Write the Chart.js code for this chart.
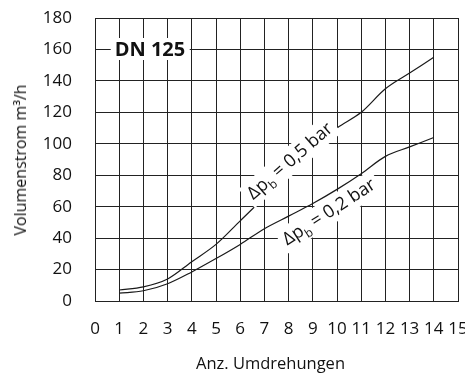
<!DOCTYPE html>
<html>
<head>
<meta charset="utf-8">
<script src="https://cdn.jsdelivr.net/npm/chart.js@4/dist/chart.umd.min.js"></script>
<style>
  html, body { margin: 0; padding: 0; background: #fff; }
  #wrap { position: relative; width: 465px; height: 374px; }
  .note {
    position: absolute; white-space: nowrap; color: #111;
    font-family: 'Open Sans', 'Noto Sans', sans-serif;
    transform-origin: center center;
  }
  .box { background: #fff; padding: 0 4px; line-height: 22px; }
  .sub { font-size: 12px; position: relative; top: 5px; }
</style>
</head>
<body>
<div id="wrap"><canvas id="chart"></canvas></div>
<script>
// Umdrehungen (x) und Volumenstrom m³/h (y)
const turns = [1, 2, 3, 4, 5, 6, 7, 8, 9, 10, 11, 12, 13, 14];
const flow05 = [7, 9, 14, 25, 36, 51, 66, 81, 97, 110, 120, 135, 145, 155];
const flow02 = [5, 6.5, 11, 18.5, 27, 36, 46, 54, 62, 71, 81, 92, 98, 104];
const xTicks = [0, 1, 2, 3, 4, 5, 6, 7, 8, 9, 10, 11, 12, 13, 14, 15];
const yTicks = [0, 20, 40, 60, 80, 100, 120, 140, 160, 180];

const FONT = "'Open Sans', 'Noto Sans', sans-serif";

// Beschriftungen im Diagramm (Position in Datenkoordinaten)
const curveLabels = [
  { x: 8.06, y: 89, angle: -41, value: '0,5' },
  { x: 9.68, y: 56.5, angle: -33, value: '0,2' }
];

function toPoints(ys) {
  return turns.map((t, i) => ({ x: t, y: ys[i] }));
}

const chart = new Chart(document.getElementById('chart'), {
  type: 'line',
  data: {
    datasets: [
      { label: 'a', data: toPoints(flow05) },
      { label: 'b', data: toPoints(flow02) }
    ]
  },
  options: {
    responsive: true,
    maintainAspectRatio: false,
    animation: false,
    layout: { padding: { top: 18, right: 7, left: 0, bottom: 0 } },
    elements: {
      line: { borderColor: '#1a1a1a', borderWidth: 1.2, cubicInterpolationMode: 'monotone', fill: false },
      point: { radius: 0 }
    },
    scales: {
      x: {
        type: 'linear',
        min: xTicks[0], max: xTicks[xTicks.length - 1],
        afterFit: s => { s.height = 73; s.paddingLeft = 0; s.paddingRight = 0; },
        grid: { display: true, color: '#222', lineWidth: 1, drawTicks: false },
        border: { display: true, color: '#222', width: 1 },
        ticks: { stepSize: 1, color: '#111', font: { family: FONT, size: 17 }, padding: 18, maxRotation: 0, autoSkip: false }
      },
      y: {
        type: 'linear',
        min: yTicks[0], max: yTicks[yTicks.length - 1],
        afterFit: s => { s.width = 95; s.paddingTop = 0; s.paddingBottom = 0; },
        grid: { display: true, color: '#222', lineWidth: 1, drawTicks: false },
        border: { display: true, color: '#222', width: 1 },
        ticks: { stepSize: 20, color: '#111', font: { family: FONT, size: 17 }, padding: 23, autoSkip: false }
      }
    },
    plugins: { legend: { display: false }, tooltip: { enabled: false } }
  }
});

// Texte als HTML über dem Canvas
const wrap = document.getElementById('wrap');
function addNote(html, cls, px, py, angle, size, bold) {
  const el = document.createElement('div');
  el.className = 'note ' + cls;
  el.innerHTML = html;
  el.style.fontSize = size + 'px';
  if (bold) el.style.fontWeight = 'bold';
  el.style.left = px + 'px';
  el.style.top = py + 'px';
  el.style.transform = 'translate(-50%, -50%) rotate(' + angle + 'deg)';
  wrap.appendChild(el);
}

const sx = chart.scales.x, sy = chart.scales.y, area = chart.chartArea;
addNote('DN 125', 'box', sx.getPixelForValue(2.27), sy.getPixelForValue(160), 0, 20, true);
curveLabels.forEach(l => {
  addNote('Δp<span class="sub">b</span> = ' + l.value + ' bar', 'box',
    sx.getPixelForValue(l.x), sy.getPixelForValue(l.y), l.angle, 18, false);
});
addNote('Anz. Umdrehungen', '', (area.left + area.right) / 2 - 6, 362, 0, 16.5, false);
addNote('Volumenstrom m³/h', '', 20, (area.top + area.bottom) / 2, -90, 16, false);
</script>
</body>
</html>
